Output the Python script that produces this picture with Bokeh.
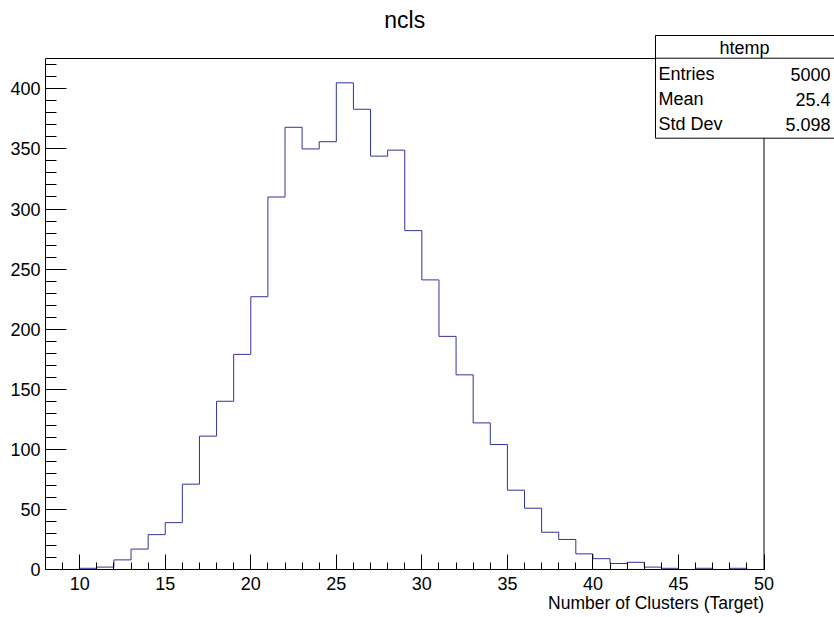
from bokeh.plotting import figure
from bokeh.models import Range1d, SingleIntervalTicker, Label, BoxAnnotation, Title
from bokeh.embed import file_html
from bokeh.resources import INLINE

# ---- data -------------------------------------------------------------
hist_title = "ncls"
x_title = "Number of Clusters (Target)"
bin_edges = list(range(8, 51))          # 42 bins of width 1, from 8 to 50
counts = [0, 0, 1, 2, 8, 17, 29, 39, 71, 111, 140, 179, 227, 310, 368, 350,
          356, 405, 383, 344, 349, 282, 241, 194, 162, 122, 104, 66, 51, 31,
          25, 13, 9, 5, 6, 2, 1, 0, 1, 0, 1, 0]
stats_name = "htemp"
stats_labels = ["Entries", "Mean", "Std Dev"]
stats_values = ["5000", "25.4", "5.098"]

x_min, x_max = 8, 50
y_max = 1.05 * max(counts)

FONT = "Liberation Sans"
LINE = "#333399"

# ---- layout (pixels) --------------------------------------------------
W, H = 834, 617
frame_l, frame_r, frame_t, frame_b = 45, 763.5, 58, 569
px_x = (frame_r - frame_l) / (x_max - x_min)
px_y = (frame_b - frame_t) / y_max


def dx(px):   # pixel column -> data x
    return x_min + (px - frame_l) / px_x


def dy(py):   # pixel row -> data y
    return (frame_b - py) / px_y


p = figure(width=W, height=H, output_backend="svg", toolbar_location=None,
           x_range=Range1d(x_min, dx(W)), y_range=Range1d(0, dy(0)),
           min_border_left=frame_l, min_border_right=0, min_border_top=0,
           min_border_bottom=H - frame_b, title=None)
p.background_fill_color = "white"
p.border_fill_color = "white"
p.outline_line_color = None
p.xgrid.visible = False
p.ygrid.visible = False

xa = p.below[0]
xa.bounds = (x_min, x_max)
xa.ticker = SingleIntervalTicker(interval=5, num_minor_ticks=5)
xa.major_tick_in = 15
xa.major_tick_out = 0
xa.minor_tick_in = 7
xa.minor_tick_out = 0
xa.major_label_standoff = 7
xa.major_label_text_font = FONT
xa.major_label_text_font_size = "18px"
xa.major_label_text_color = "black"
xa.axis_line_color = "black"
xa.major_tick_line_color = "black"
xa.minor_tick_line_color = "black"

ya = p.left[0]
ya.bounds = (0, y_max)
ya.ticker = SingleIntervalTicker(interval=50, num_minor_ticks=5)
ya.major_tick_in = 21
ya.major_tick_out = 0
ya.minor_tick_in = 11
ya.minor_tick_out = 0
ya.major_label_standoff = 5
ya.major_label_text_font = FONT
ya.major_label_text_font_size = "18px"
ya.major_label_text_color = "black"
ya.axis_line_color = "black"
ya.major_tick_line_color = "black"
ya.minor_tick_line_color = "black"

# x-axis title, right-aligned with the end of the axis
p.add_layout(Title(text=x_title, align="right", offset=W - frame_r, standoff=0,
                   vertical_align="top", text_font=FONT,
                   text_font_size="17.5px", text_font_style="normal",
                   text_color="black"), "below")

# frame top and right edges
p.line(x=[x_min, x_max, x_max], y=[y_max, y_max, 0], line_color="black",
       line_width=1)

# histogram outline
step_y = counts + [counts[-1]]
p.step(x=bin_edges, y=step_y, mode="after", line_color=LINE, line_width=1)

# title
p.add_layout(Label(x=(x_min + x_max) / 2, y=dy(19.5), text=hist_title,
                   text_align="center", text_baseline="middle",
                   text_font=FONT, text_font_size="23px", text_color="black"))

# stats box
box_l, box_t, box_b, box_div = dx(655), dy(35), dy(137.7), dy(57.7)
p.add_layout(BoxAnnotation(left=box_l, right=dx(W + 10), top=box_t,
                           bottom=box_b, fill_color="white", fill_alpha=1.0,
                           line_color="black", line_width=1, line_alpha=1.0))
p.add_layout(BoxAnnotation(left=box_l, right=dx(W + 10), top=box_t,
                           bottom=box_div, fill_alpha=0.0, line_color="black",
                           line_width=1, line_alpha=1.0))
p.add_layout(Label(x=dx(744), y=dy(47), text=stats_name, text_align="center",
                   text_baseline="middle", text_font=FONT,
                   text_font_size="18px", text_color="black"))
row_mid = [73.5, 98.5, 123.5]
for lab, val, ym in zip(stats_labels, stats_values, row_mid):
    p.add_layout(Label(x=dx(658), y=dy(ym), text=lab, text_align="left",
                       text_baseline="middle", text_font=FONT,
                       text_font_size="18px", text_color="black"))
    p.add_layout(Label(x=dx(830), y=dy(ym), text=val, text_align="right",
                       text_baseline="middle", text_font=FONT,
                       text_font_size="18px", text_color="black"))

open("out.html", "w").write(file_html(p, INLINE))
